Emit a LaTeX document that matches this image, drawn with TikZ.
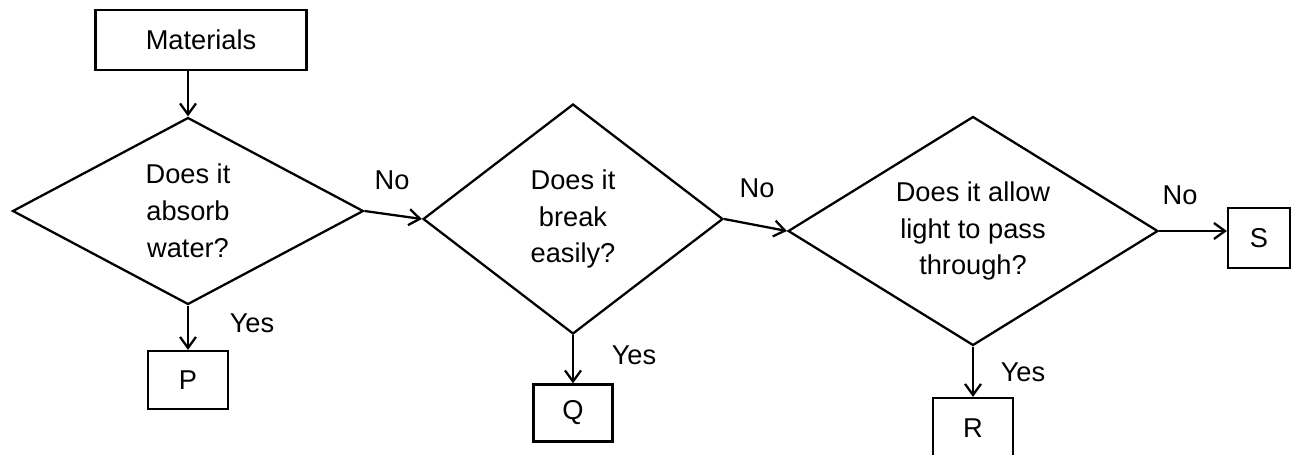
\documentclass[tikz,border=0pt]{standalone}
\usepackage{fontspec}
\setmainfont{Liberation Sans}
\usetikzlibrary{shapes.geometric,arrows.meta}

\tikzset{
  block/.style={draw,line width=1.3pt,inner sep=0pt},
  decision/.style={draw,diamond,line width=1.3pt,inner sep=0pt,align=center},
  flow/.style={->,line width=1.3pt},
}

\begin{document}
\begin{tikzpicture}[x=0.02cm,y=-0.02cm,font=\fontsize{15.5}{21}\selectfont,
  >={Straight Barb[length=2.2mm,width=3.2mm]}]
\useasboundingbox (0,0) rectangle (1294,454);

% Start box
\node[block,minimum width=4.22cm,minimum height=1.2cm] (materials) at (201,40) {Materials};

% Decisions
\node[decision,aspect=1.88,minimum width=7.02cm,minimum height=3.74cm] (absorb) at (188,211)
  {Does it\\absorb\\water?};
\node[decision,aspect=1.3,minimum width=6cm,minimum height=4.6cm] (break) at (573,219)
  {Does it\\break\\easily?};
\node[decision,aspect=1.6,minimum width=7.4cm,minimum height=4.58cm] (light) at (973,231)
  {Does it allow\\light to pass\\through?};

% End boxes
\node[block,minimum width=1.6cm,minimum height=1.16cm] (P) at (188,380) {P};
\node[block,minimum width=1.58cm,minimum height=1.14cm] (Q) at (573,413) {Q};
\node[block,minimum width=1.6cm,minimum height=1.2cm] (R) at (973,428) {R};
\node[block,minimum width=1.24cm,minimum height=1.2cm] (S) at (1259,238) {S};

% Arrows
\draw[flow] (materials.south -| absorb.north) -- (absorb.north);
\draw[flow] (absorb.east) -- (break.west);
\draw[flow] (break.east) -- (light.west);
\draw[flow] (light.east) -- (light.east -| S.west);
\draw[flow] (absorb.south) -- (P.north);
\draw[flow] (break.south) -- (Q.north);
\draw[flow] (light.south) -- (R.north);

% Labels
\node (no1) at (392,180) {No};
\node (no2) at (757,188) {No};
\node (no3) at (1180,195) {No};
\node (yes1) at (252,323) {Yes};
\node (yes2) at (634,355) {Yes};
\node (yes3) at (1023,372) {Yes};

\end{tikzpicture}
\end{document}
